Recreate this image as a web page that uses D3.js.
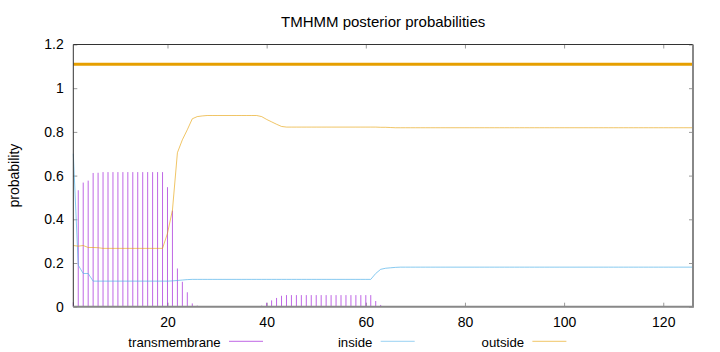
<!DOCTYPE html>
<html>
<head>
<meta charset="utf-8">
<script src="https://cdn.jsdelivr.net/npm/d3@7"></script>
<style>
  body { margin: 0; background: #fff; }
  svg { font-family: "Liberation Sans", Arial, sans-serif; }
</style>
</head>
<body>
<svg width="720" height="352"></svg>
<script>
// posterior probabilities per residue, position 1..126
var transmembrane = [
  0.02, 0.533, 0.568, 0.577, 0.612, 0.613, 0.616, 0.616, 0.616, 0.616,
  0.616, 0.616, 0.616, 0.616, 0.616, 0.616, 0.616, 0.616, 0.616, 0.547,
  0.44, 0.175, 0.114, 0.066, 0.015, 0.005, 0.002, 0, 0, 0,
  0, 0, 0, 0, 0, 0, 0, 0, 0.005, 0.018,
  0.029, 0.04, 0.05, 0.053, 0.053, 0.053, 0.053, 0.053, 0.053, 0.053,
  0.053, 0.053, 0.053, 0.053, 0.053, 0.053, 0.053, 0.053, 0.053, 0.053,
  0.053, 0.026, 0.008, 0.003, 0.002, 0, 0, 0, 0, 0,
  0, 0, 0, 0, 0, 0, 0, 0, 0, 0,
  0, 0, 0, 0, 0, 0, 0, 0, 0, 0,
  0, 0, 0, 0, 0, 0, 0, 0, 0, 0,
  0, 0, 0, 0, 0, 0, 0, 0, 0, 0,
  0, 0, 0, 0, 0, 0, 0, 0, 0, 0,
  0, 0, 0, 0, 0, 0
];
var inside = [
  0.70, 0.19, 0.152, 0.152, 0.117, 0.117, 0.117, 0.117, 0.117, 0.117,
  0.117, 0.117, 0.117, 0.117, 0.117, 0.117, 0.117, 0.117, 0.117, 0.117,
  0.118, 0.12, 0.122, 0.124, 0.125, 0.125, 0.125, 0.125, 0.125, 0.125,
  0.125, 0.125, 0.125, 0.125, 0.125, 0.125, 0.125, 0.125, 0.125, 0.125,
  0.125, 0.125, 0.125, 0.125, 0.125, 0.125, 0.125, 0.125, 0.125, 0.125,
  0.125, 0.125, 0.125, 0.125, 0.125, 0.125, 0.125, 0.125, 0.125, 0.125,
  0.125, 0.152, 0.171, 0.176, 0.178, 0.18, 0.181, 0.181, 0.181, 0.181,
  0.181, 0.181, 0.181, 0.181, 0.181, 0.181, 0.181, 0.181, 0.181, 0.181,
  0.181, 0.181, 0.181, 0.181, 0.181, 0.181, 0.181, 0.181, 0.181, 0.181,
  0.181, 0.181, 0.181, 0.181, 0.181, 0.181, 0.181, 0.181, 0.181, 0.181,
  0.181, 0.181, 0.181, 0.181, 0.181, 0.181, 0.181, 0.181, 0.181, 0.181,
  0.181, 0.181, 0.181, 0.181, 0.181, 0.181, 0.181, 0.181, 0.181, 0.181,
  0.181, 0.181, 0.181, 0.181, 0.181, 0.181
];
var outside = [
  0.28, 0.277, 0.28, 0.271, 0.271, 0.27, 0.267, 0.267, 0.267, 0.267,
  0.267, 0.267, 0.267, 0.267, 0.267, 0.267, 0.267, 0.267, 0.267, 0.336,
  0.442, 0.705, 0.764, 0.81, 0.86, 0.87, 0.873, 0.875, 0.875, 0.875,
  0.875, 0.875, 0.875, 0.875, 0.875, 0.875, 0.875, 0.875, 0.87, 0.857,
  0.846, 0.835, 0.825, 0.822, 0.822, 0.822, 0.822, 0.822, 0.822, 0.822,
  0.822, 0.822, 0.822, 0.822, 0.822, 0.822, 0.822, 0.822, 0.822, 0.822,
  0.822, 0.822, 0.821, 0.821, 0.82, 0.819, 0.819, 0.819, 0.819, 0.819,
  0.819, 0.819, 0.819, 0.819, 0.819, 0.819, 0.819, 0.819, 0.819, 0.819,
  0.819, 0.819, 0.819, 0.819, 0.819, 0.819, 0.819, 0.819, 0.819, 0.819,
  0.819, 0.819, 0.819, 0.819, 0.819, 0.819, 0.819, 0.819, 0.819, 0.819,
  0.819, 0.819, 0.819, 0.819, 0.819, 0.819, 0.819, 0.819, 0.819, 0.819,
  0.819, 0.819, 0.819, 0.819, 0.819, 0.819, 0.819, 0.819, 0.819, 0.819,
  0.819, 0.819, 0.819, 0.819, 0.819, 0.819
];

// predicted topology (drawn as the thick bar above the curves)
var topoStart = [1],
    topoEnd = [126],
    topoLevel = 1.11;

var xTicks = [20, 40, 60, 80, 100, 120];
var yTicks = [0, 0.2, 0.4, 0.6, 0.8, 1, 1.2];
var keys = ["transmembrane", "inside", "outside"];

var colors = {transmembrane: "#9400d3", inside: "#56b4e9", outside: "#e69f00"};

var svg = d3.select("svg"),
    plotLeft = 73.3, plotRight = 693, plotTop = 44.5, plotBottom = 306.7;

var x = d3.scaleLinear().domain([1, 126]).range([plotLeft, plotRight]);
var y = d3.scaleLinear().domain([0, 1.2]).range([plotBottom, plotTop]);

var pos = transmembrane.map(function(d, i) { return i + 1; });

// ticks, pointing inward like gnuplot
function styleAxis(g, hideText) {
  g.select(".domain").remove();
  g.selectAll(".tick line").attr("stroke", "#9a9a9a");
  g.selectAll(".tick text").attr("fill", "#000").attr("font-size", 14);
  if (hideText) g.selectAll(".tick text").remove();
}

svg.append("g")
  .attr("transform", "translate(0," + plotBottom + ")")
  .call(d3.axisBottom(x).tickValues(xTicks).tickSizeInner(-4).tickSizeOuter(0).tickPadding(10))
  .call(styleAxis, false);

svg.append("g")
  .attr("transform", "translate(0," + plotTop + ")")
  .call(d3.axisTop(x).tickValues(xTicks).tickSizeInner(-4).tickSizeOuter(0))
  .call(styleAxis, true);

svg.append("g")
  .attr("transform", "translate(" + plotLeft + ",0)")
  .call(d3.axisLeft(y).tickValues(yTicks).tickFormat(d3.format("~g")).tickSizeInner(-4).tickSizeOuter(0).tickPadding(9.5))
  .call(styleAxis, false);

svg.append("g")
  .attr("transform", "translate(" + plotRight + ",0)")
  .call(d3.axisRight(y).tickValues(yTicks).tickSizeInner(-4).tickSizeOuter(0))
  .call(styleAxis, true);

// transmembrane impulses
svg.append("g")
  .selectAll("line")
  .data(transmembrane)
  .enter().append("line")
    .attr("x1", function(d, i) { return x(pos[i]); })
    .attr("x2", function(d, i) { return x(pos[i]); })
    .attr("y1", y(0))
    .attr("y2", function(d) { return y(d); })
    .attr("stroke", colors.transmembrane)
    .attr("stroke-opacity", 0.6)
    .attr("stroke-width", 1);

var line = d3.line()
  .x(function(d, i) { return x(pos[i]); })
  .y(function(d) { return y(d); });

svg.append("path")
  .datum(inside)
  .attr("d", line)
  .attr("fill", "none")
  .attr("stroke", colors.inside)
  .attr("stroke-opacity", 0.7)
  .attr("stroke-width", 1);

svg.append("path")
  .datum(outside)
  .attr("d", line)
  .attr("fill", "none")
  .attr("stroke", colors.outside)
  .attr("stroke-opacity", 0.6)
  .attr("stroke-width", 1);

// topology bar
svg.append("g")
  .selectAll("line")
  .data(topoStart)
  .enter().append("line")
    .attr("x1", function(d) { return x(d); })
    .attr("x2", function(d, i) { return x(topoEnd[i]); })
    .attr("y1", y(topoLevel))
    .attr("y2", y(topoLevel))
    .attr("stroke", colors.outside)
    .attr("stroke-width", 3);

// border
svg.append("path")
  .attr("d", "M" + plotLeft + "," + plotBottom + "V" + plotTop + "H" + plotRight)
  .attr("fill", "none")
  .attr("stroke", "#333")
  .attr("stroke-width", 1);
svg.append("path")
  .attr("d", "M" + plotLeft + "," + plotBottom + "H" + plotRight + "V" + plotTop)
  .attr("fill", "none")
  .attr("stroke", "#888")
  .attr("stroke-width", 2);

// title and y label
svg.append("text")
  .attr("x", (plotLeft + plotRight) / 2)
  .attr("y", 26.5)
  .attr("text-anchor", "middle")
  .attr("font-size", 15)
  .text("TMHMM posterior probabilities");

svg.append("text")
  .attr("transform", "translate(19," + ((plotTop + plotBottom) / 2) + ") rotate(-90)")
  .attr("text-anchor", "middle")
  .attr("font-size", 14)
  .text("probability");

// legend
var legend = svg.append("g")
  .selectAll("g")
  .data(keys)
  .enter().append("g")
    .attr("transform", function(d, i) { return "translate(" + (i * 151.7) + ",0)"; });

legend.append("text")
  .attr("x", 220.7)
  .attr("y", 346.5)
  .attr("text-anchor", "end")
  .attr("font-size", 13.2)
  .text(function(d) { return d; });

legend.append("line")
  .attr("x1", 229)
  .attr("x2", 263)
  .attr("y1", 341.3)
  .attr("y2", 341.3)
  .attr("stroke", function(d) { return colors[d]; })
  .attr("stroke-opacity", 0.6)
  .attr("stroke-width", 1);
</script>
</body>
</html>
